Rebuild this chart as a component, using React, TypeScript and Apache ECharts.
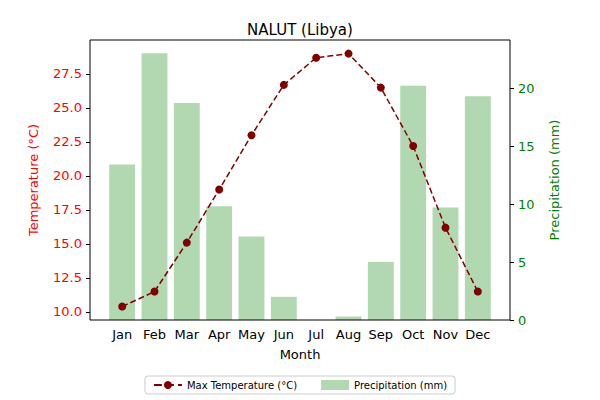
import { useEffect, useRef } from 'react';
import * as echarts from 'echarts';

const months = ['Jan', 'Feb', 'Mar', 'Apr', 'May', 'Jun', 'Jul', 'Aug', 'Sep', 'Oct', 'Nov', 'Dec'];
const maxTemp = [10.4, 11.5, 15.1, 19.0, 23.0, 26.7, 28.7, 29.0, 26.5, 22.2, 16.2, 11.5];
const precip = [13.4, 23.0, 18.7, 9.8, 7.2, 2.0, 0, 0.3, 5.0, 20.2, 9.7, 19.3];
const tempTicks = [10, 12.5, 15, 17.5, 20, 22.5, 25, 27.5];
const precipTicks = [0, 5, 10, 15, 20];

const font = 'DejaVu Sans';

const App = () => {
    const chartRef = useRef<HTMLDivElement | null>(null);

    useEffect(() => {
        const chart = echarts.init(chartRef.current!, null, { renderer: 'svg' });
        const option: echarts.EChartsOption = {
            animation: false,
            textStyle: { fontFamily: font },
            title: {
                text: 'NALUT (Libya)',
                left: 'center',
                top: 17,
                textStyle: { fontFamily: font, fontSize: 15, fontWeight: 'normal', color: '#000' },
            },
            grid: { left: 106, right: 106, top: 40, bottom: 80 },
            graphic: [
                {
                    type: 'rect',
                    shape: { x: 90, y: 40, width: 420, height: 280 },
                    style: { fill: 'none', stroke: '#000', lineWidth: 1 },
                    z: 100,
                },
            ],
            legend: {
                bottom: 6,
                left: 'center',
                itemWidth: 28,
                itemHeight: 10,
                itemGap: 24,
                borderColor: '#ccc',
                borderWidth: 1,
                borderRadius: 3,
                padding: [4, 8],
                textStyle: { fontFamily: font, fontSize: 10, color: '#000' },
                data: [
                    { name: 'Max Temperature (°C)' },
                    { name: 'Precipitation (mm)', icon: 'rect' },
                ],
            },
            xAxis: {
                type: 'category',
                data: months,
                name: 'Month',
                nameLocation: 'middle',
                nameGap: 28,
                nameTextStyle: { fontFamily: font, fontSize: 13, color: '#000' },
                axisLine: { show: false },
                axisTick: { alignWithLabel: true, interval: 0, length: 4, lineStyle: { color: '#000' } },
                axisLabel: { color: '#000', fontSize: 13, margin: 8, interval: 0 },
            },
            yAxis: [
                {
                    type: 'value',
                    min: 9.41,
                    max: 30.0,
                    position: 'left',
                    offset: 16,
                    name: 'Temperature (°C)',
                    nameLocation: 'middle',
                    nameGap: 50,
                    nameTextStyle: { color: 'red', fontSize: 13, fontFamily: font },
                    splitLine: { show: false },
                    axisLine: { show: false },
                    axisTick: { show: true, customValues: tempTicks, length: 4, lineStyle: { color: '#000' } },
                    axisLabel: {
                        customValues: tempTicks,
                        color: 'red',
                        fontSize: 13,
                        formatter: (v: number) => v.toFixed(1),
                    },
                },
                {
                    type: 'value',
                    min: 0,
                    max: 24.14,
                    position: 'right',
                    offset: 16,
                    name: 'Precipitation (mm)',
                    nameLocation: 'middle',
                    nameGap: 38,
                    nameRotate: 90,
                    nameTextStyle: { color: 'green', fontSize: 13, fontFamily: font },
                    splitLine: { show: false },
                    axisLine: { show: false },
                    axisTick: { show: true, customValues: precipTicks, length: 4, lineStyle: { color: '#000' } },
                    axisLabel: { customValues: precipTicks, color: 'green', fontSize: 13 },
                },
            ],
            series: [
                {
                    name: 'Precipitation (mm)',
                    type: 'bar',
                    yAxisIndex: 1,
                    data: precip,
                    barWidth: '80%',
                    itemStyle: { color: '#b2d8b2' },
                    z: 1,
                },
                {
                    name: 'Max Temperature (°C)',
                    type: 'line',
                    yAxisIndex: 0,
                    data: maxTemp,
                    symbol: 'circle',
                    symbolSize: 8,
                    lineStyle: { color: '#800000', type: 'dashed', width: 1.5 },
                    itemStyle: { color: '#800000' },
                    z: 3,
                },
            ],
        };
        chart.setOption(option);
        return () => {
            chart.dispose();
        };
    }, []);

    return (
        <div
            ref={chartRef}
            style={{ position: 'absolute', left: 0, top: 0, width: 600, height: 400 }}
        />
    );
};

export default App;
